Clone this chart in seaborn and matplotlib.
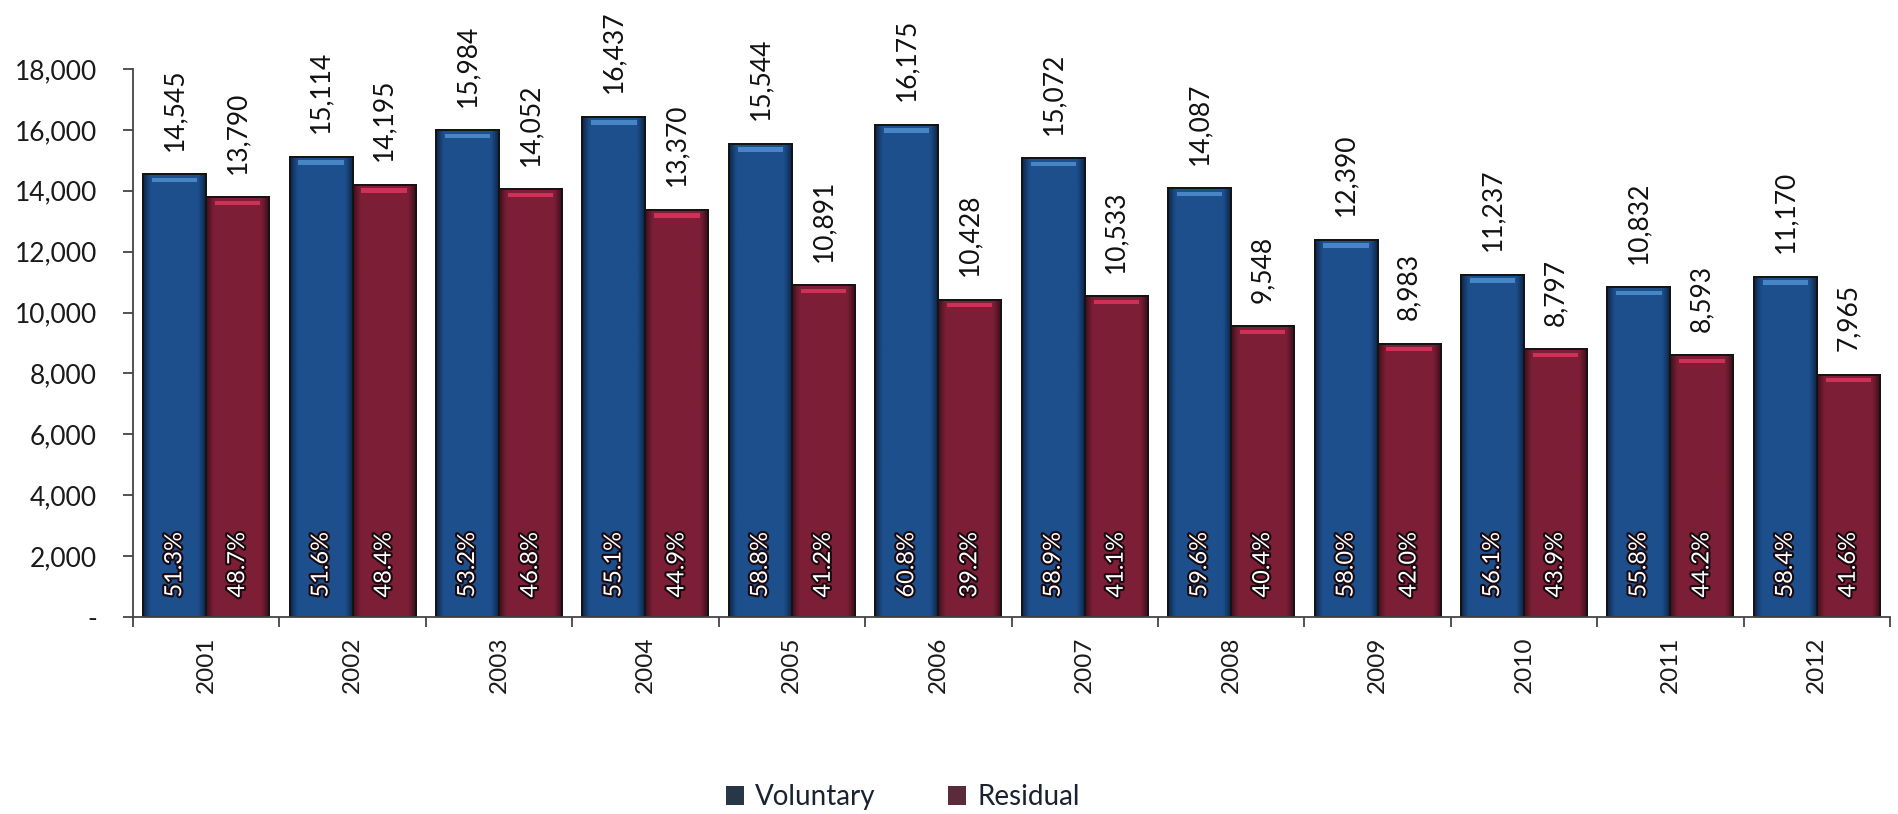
import matplotlib
matplotlib.use("Agg")
import matplotlib.pyplot as plt
import matplotlib.patheffects as pe
from matplotlib.patches import Patch, Rectangle
from matplotlib.colors import LinearSegmentedColormap
from matplotlib.ticker import FuncFormatter, FixedLocator
import numpy as np
import pandas as pd
import seaborn as sns

years = ["2001", "2002", "2003", "2004", "2005", "2006",
         "2007", "2008", "2009", "2010", "2011", "2012"]
voluntary = [14545, 15114, 15984, 16437, 15544, 16175,
             15072, 14087, 12390, 11237, 10832, 11170]
residual = [13790, 14195, 14052, 13370, 10891, 10428,
            10533, 9548, 8983, 8797, 8593, 7965]
series_names = ["Voluntary", "Residual"]
bar_colors = ["#1d4f8c", "#7c1f36"]
edge_shades = ["#0e2547", "#3f0f1c"]
top_highlight = ["#4f8fd0", "#e0345e"]
legend_colors = ["#273747", "#5b2a3b"]

sns.set_theme(style="white")
plt.rcParams["font.family"] = ["Lato", "DejaVu Sans"]

df = pd.DataFrame({
    "Year": years * 2,
    "Count": voluntary + residual,
    "Type": [series_names[0]] * len(years) + [series_names[1]] * len(years),
})

fig = plt.figure(figsize=(18.99, 8.14), dpi=100)
ax = fig.add_axes([0.0700, 0.2420, 0.9253, 0.6732])

sns.barplot(data=df, x="Year", y="Count", hue="Type", order=years,
            hue_order=series_names, palette=bar_colors, saturation=1,
            width=0.86, edgecolor="#141414", linewidth=1.4,
            legend=False, ax=ax)

ax.set_xlim(-0.5, len(years) - 0.5)
ax.set_ylim(0, 18000)

# side-to-side shading and a bevelled top edge on every bar
ramp = np.abs(np.linspace(-1, 1, 64)) ** 2.5
ramp = (1 - ramp)[None, :]
for cont, base, dark, hl in zip(ax.containers, bar_colors, edge_shades, top_highlight):
    cmap = LinearSegmentedColormap.from_list("shade", [dark, base, base])
    for p in cont.patches:
        x, w, h = p.get_x(), p.get_width(), p.get_height()
        im = ax.imshow(ramp, extent=[x, x + w, 0, h], aspect="auto", cmap=cmap,
                       vmin=0, vmax=1, origin="lower", interpolation="bilinear",
                       zorder=p.get_zorder() + 0.05)
        im.set_clip_path(p)
        ax.add_patch(Rectangle((x, 0), w, h, facecolor="none", edgecolor="#141414",
                               linewidth=1.4, zorder=p.get_zorder() + 0.08))
        ax.add_patch(Rectangle((x + 0.14 * w, h - 260), 0.72 * w, 150,
                               facecolor=hl, edgecolor="none", alpha=0.85,
                               zorder=p.get_zorder() + 0.1))

ax.set_xlim(-0.5, len(years) - 0.5)
ax.set_ylim(0, 18000)
ax.set_aspect("auto")

# values above the bars (text starts just above the bar top)
for cont in ax.containers:
    for p, v in zip(cont.patches, cont.datavalues):
        ax.annotate(f"{v:,.0f}", xy=(p.get_x() + p.get_width() / 2, v),
                    xytext=(0, 17), textcoords="offset points",
                    rotation=90, rotation_mode="anchor", ha="left", va="center",
                    fontsize=19, color="#111111")

# share of each year's total inside the bars
totals = np.array(voluntary) + np.array(residual)
shares = [np.array(voluntary) / totals * 100, np.array(residual) / totals * 100]
for cont, sh in zip(ax.containers, shares):
    for p, s in zip(cont.patches, sh):
        ax.annotate(f"{s:.1f}%", xy=(p.get_x() + p.get_width() / 2, 0),
                    xytext=(0, 14), textcoords="offset points",
                    rotation=90, rotation_mode="anchor", ha="left", va="center",
                    fontsize=17, color="white", zorder=5,
                    path_effects=[pe.withStroke(linewidth=3, foreground="#1a0a10")])

# axes styling
for side in ["top", "right"]:
    ax.spines[side].set_visible(False)
for side in ["left", "bottom"]:
    ax.spines[side].set_color("#444444")
    ax.spines[side].set_linewidth(1.3)
    ax.spines[side].set_zorder(6)

ax.yaxis.set_major_locator(FixedLocator(np.arange(0, 18001, 2000)))
ax.yaxis.set_major_formatter(FuncFormatter(lambda v, _: "-" if v == 0 else f"{v:,.0f}"))
ax.tick_params(axis="y", direction="out", length=7, width=1.3, color="#444444",
               pad=19, labelsize=19, labelcolor="#1a1a1a", left=True)

# ticks between groups, labels at group centres
ax.set_xticks(np.arange(-0.5, len(years), 1.0))
ax.set_xticklabels([])
ax.set_xticks(np.arange(len(years)), minor=True)
ax.set_xticklabels(years, minor=True, rotation=90, fontsize=17.5, color="#1a1a1a")
ax.tick_params(axis="x", which="major", direction="out", length=7, width=1.3,
               color="#444444", bottom=True)
ax.tick_params(axis="x", which="minor", length=0, pad=14)

ax.set_xlabel("")
ax.set_ylabel("")
ax.grid(False)

handles = [Patch(facecolor=c, edgecolor="none") for c in legend_colors]
fig.legend(handles, series_names, loc="center", bbox_to_anchor=(903 / 1899, 1 - 797 / 814),
           ncol=2, frameon=False, fontsize=20, handlelength=0.65, handleheight=0.65,
           handletextpad=0.4, columnspacing=2.6, labelcolor="#1a2230")

fig.savefig("out.png", dpi=100, facecolor="white")
